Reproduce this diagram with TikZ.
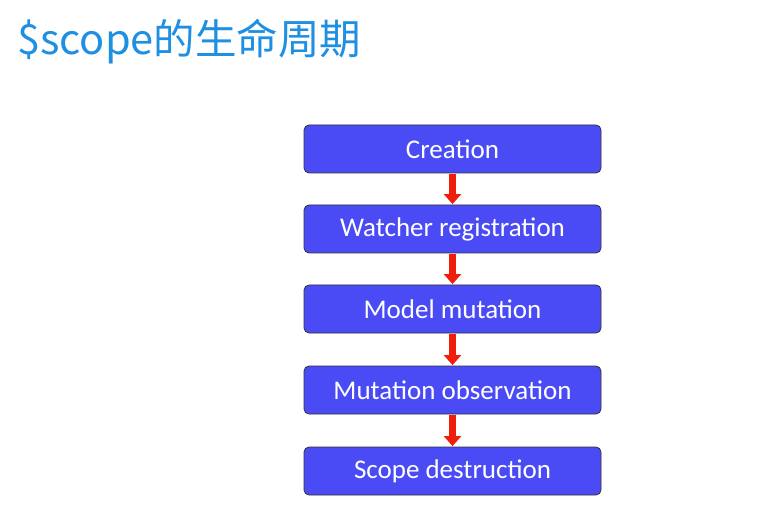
\documentclass[tikz,border=0pt]{standalone}
\usepackage{fontspec}
\setmainfont{Carlito}
\newfontfamily\cjk{Noto Sans CJK SC}
\usetikzlibrary{arrows.meta}
\definecolor{boxblue}{HTML}{4B4BF5}
\definecolor{titleblue}{HTML}{1E8FE1}
\definecolor{arrred}{HTML}{F01E0A}
\tikzset{
  stepbox/.style={draw=black!80, line width=0.8pt, fill=boxblue, rounded corners=5pt,
    minimum width=297pt, minimum height=48pt, text=white, font=\fontsize{27}{31}\selectfont, inner sep=0pt},
  flowarrow/.style={draw=arrred, line width=7pt, -{Triangle[width=17pt,length=10pt]}, shorten >=0.5pt, shorten <=0.5pt}
}
\begin{document}
\begin{tikzpicture}[x=1pt,y=-1pt]
\useasboundingbox (0,0) rectangle (778,526);
\fill[white] (0,0) rectangle (778,526);
\node[anchor=west, text=titleblue, font=\cjk\fontsize{41.5}{47}\selectfont, inner sep=0pt] (title) at (17,42) {\$scope的生命周期};
\node[stepbox] (b1) at (452.5,149) {Creation};
\node[stepbox] (b2) at (452.5,229) {Watcher registration};
\node[stepbox] (b3) at (452.5,309) {Model mutation};
\node[stepbox] (b4) at (452.5,390) {Mutation observation};
\node[stepbox] (b5) at (452.5,471) {Scope destruction};
\draw[flowarrow] (b1) -- (b2);
\draw[flowarrow] (b2) -- (b3);
\draw[flowarrow] (b3) -- (b4);
\draw[flowarrow] (b4) -- (b5);
\end{tikzpicture}
\end{document}
